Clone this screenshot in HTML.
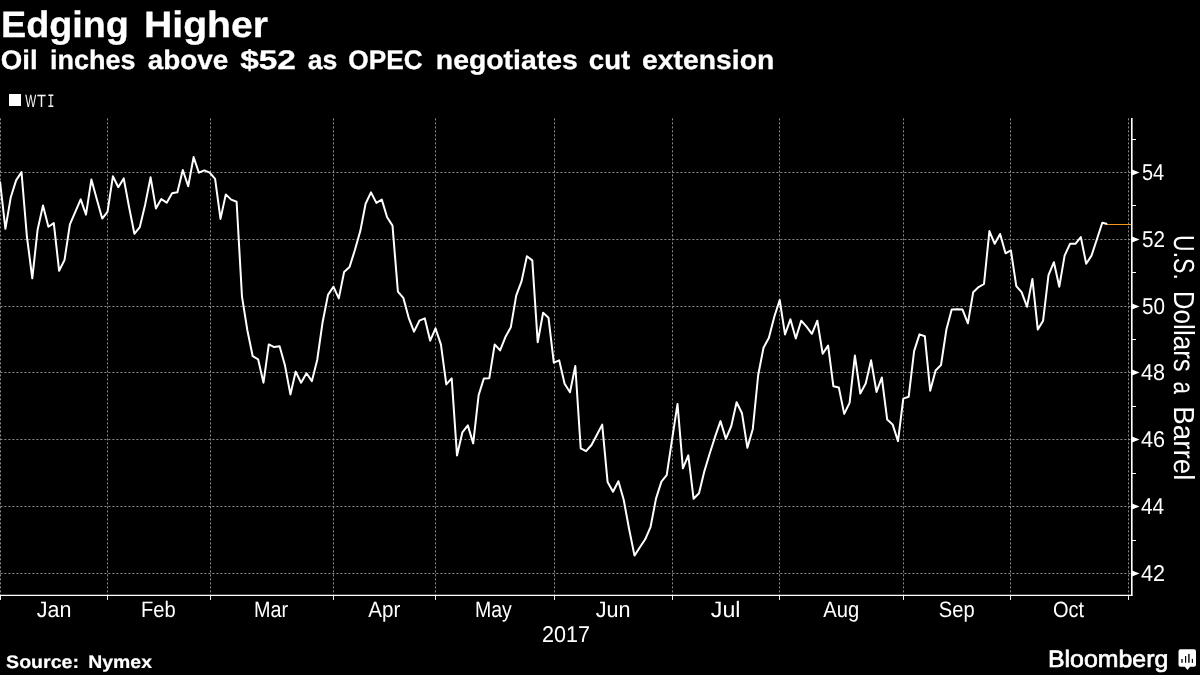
<!DOCTYPE html>
<html><head><meta charset="utf-8"><title>Edging Higher</title>
<style>
html,body{margin:0;padding:0;background:#000;}
body{width:1200px;height:675px;position:relative;overflow:hidden;}
svg{position:absolute;left:0;top:0;will-change:transform;}
text{font-family:"Liberation Sans",sans-serif;text-rendering:geometricPrecision;}
.g{stroke:#8c8c8c;stroke-width:1;stroke-dasharray:2 2;stroke-dashoffset:-0.4;}
</style></head><body>
<svg width="1200" height="675" viewBox="0 0 1200 675">
<line x1="0.5" y1="118" x2="0.5" y2="595" class="g"/>
<line x1="107.5" y1="118" x2="107.5" y2="595" class="g"/>
<line x1="210.5" y1="118" x2="210.5" y2="595" class="g"/>
<line x1="333.5" y1="118" x2="333.5" y2="595" class="g"/>
<line x1="435.5" y1="118" x2="435.5" y2="595" class="g"/>
<line x1="554.5" y1="118" x2="554.5" y2="595" class="g"/>
<line x1="672.5" y1="118" x2="672.5" y2="595" class="g"/>
<line x1="779.5" y1="118" x2="779.5" y2="595" class="g"/>
<line x1="903.5" y1="118" x2="903.5" y2="595" class="g"/>
<line x1="1010.5" y1="118" x2="1010.5" y2="595" class="g"/>
<line x1="1128.5" y1="118" x2="1128.5" y2="595" class="g"/>
<line x1="0" y1="573.5" x2="1131" y2="573.5" class="g"/>
<line x1="0" y1="506.5" x2="1131" y2="506.5" class="g"/>
<line x1="0" y1="439.5" x2="1131" y2="439.5" class="g"/>
<line x1="0" y1="372.5" x2="1131" y2="372.5" class="g"/>
<line x1="0" y1="306.5" x2="1131" y2="306.5" class="g"/>
<line x1="0" y1="239.5" x2="1131" y2="239.5" class="g"/>
<line x1="0" y1="172.5" x2="1131" y2="172.5" class="g"/>
<line x1="0" y1="595.4" x2="1132.4" y2="595.4" stroke="#fff" stroke-width="1.2"/>
<line x1="1131.8" y1="118" x2="1131.8" y2="596" stroke="#fff" stroke-width="1.6"/>
<line x1="0.5" y1="596" x2="0.5" y2="600" stroke="#eee" stroke-width="1"/>
<line x1="107.5" y1="596" x2="107.5" y2="600" stroke="#eee" stroke-width="1"/>
<line x1="210.5" y1="596" x2="210.5" y2="600" stroke="#eee" stroke-width="1"/>
<line x1="333.5" y1="596" x2="333.5" y2="600" stroke="#eee" stroke-width="1"/>
<line x1="435.5" y1="596" x2="435.5" y2="600" stroke="#eee" stroke-width="1"/>
<line x1="554.5" y1="596" x2="554.5" y2="600" stroke="#eee" stroke-width="1"/>
<line x1="672.5" y1="596" x2="672.5" y2="600" stroke="#eee" stroke-width="1"/>
<line x1="779.5" y1="596" x2="779.5" y2="600" stroke="#eee" stroke-width="1"/>
<line x1="903.5" y1="596" x2="903.5" y2="600" stroke="#eee" stroke-width="1"/>
<line x1="1010.5" y1="596" x2="1010.5" y2="600" stroke="#eee" stroke-width="1"/>
<line x1="1128.5" y1="596" x2="1128.5" y2="600" stroke="#eee" stroke-width="1"/>
<path d="M1132 570.5 L1139.6 573.5 L1132 576.5 Z" fill="#fff"/>
<path d="M1132 503.5 L1139.6 506.5 L1132 509.5 Z" fill="#fff"/>
<path d="M1132 436.5 L1139.6 439.5 L1132 442.5 Z" fill="#fff"/>
<path d="M1132 369.5 L1139.6 372.5 L1132 375.5 Z" fill="#fff"/>
<path d="M1132 303.5 L1139.6 306.5 L1132 309.5 Z" fill="#fff"/>
<path d="M1132 236.5 L1139.6 239.5 L1132 242.5 Z" fill="#fff"/>
<path d="M1132 169.5 L1139.6 172.5 L1132 175.5 Z" fill="#fff"/>
<line x1="1132" y1="540.5" x2="1136" y2="540.5" stroke="#fff" stroke-width="1"/>
<line x1="1132" y1="473.5" x2="1136" y2="473.5" stroke="#fff" stroke-width="1"/>
<line x1="1132" y1="406.5" x2="1136" y2="406.5" stroke="#fff" stroke-width="1"/>
<line x1="1132" y1="339.5" x2="1136" y2="339.5" stroke="#fff" stroke-width="1"/>
<line x1="1132" y1="272.5" x2="1136" y2="272.5" stroke="#fff" stroke-width="1"/>
<line x1="1132" y1="205.5" x2="1136" y2="205.5" stroke="#fff" stroke-width="1"/>
<line x1="1132" y1="139.5" x2="1136" y2="139.5" stroke="#fff" stroke-width="1"/>
<line x1="1107" y1="224.5" x2="1131" y2="224.5" stroke="#f7941d" stroke-width="1"/>
<polyline points="0.0,181.4 5.4,228.8 10.8,197.2 16.1,180.4 21.5,172.1 26.9,236.5 32.3,278.3 37.6,229.7 43.0,205.4 48.4,226.8 53.8,223.1 59.1,270.7 64.5,260.1 69.9,224.4 75.3,211.8 80.7,199.4 86.0,214.6 91.4,179.4 96.8,199.2 102.2,218.6 107.5,211.8 112.9,176.3 118.3,187.2 123.7,178.4 129.0,206.7 134.4,233.8 139.8,227.1 145.2,204.4 150.6,177.3 155.9,208.4 161.3,199.1 166.7,202.7 172.1,193.3 177.4,192.2 182.8,170.0 188.2,186.2 193.6,157.1 198.9,172.7 204.3,170.4 209.7,172.7 215.1,178.9 220.5,218.9 225.8,194.4 231.2,199.6 236.6,201.8 242.0,296.7 247.3,330.0 252.7,356.2 258.1,359.3 263.5,382.7 268.8,344.4 274.2,347.1 279.6,346.2 285.0,365.6 290.4,394.4 295.7,371.6 301.1,382.7 306.5,373.3 311.9,381.1 317.2,360.0 322.6,322.2 328.0,294.9 333.4,286.7 338.8,298.4 344.1,272.0 349.5,267.1 354.9,250.0 360.3,231.1 365.6,203.8 371.0,192.4 376.4,202.9 381.8,199.6 387.1,217.3 392.5,225.6 397.9,291.6 403.3,297.8 408.7,317.8 414.0,331.6 419.4,320.7 424.8,318.4 430.2,340.7 435.5,328.4 440.9,344.4 446.3,384.4 451.7,378.4 457.0,455.4 462.4,432.3 467.8,425.4 473.2,443.4 478.6,395.3 483.9,378.4 489.3,378.2 494.7,344.4 500.1,350.4 505.4,337.1 510.8,327.3 516.2,295.6 521.6,281.1 526.9,256.2 532.3,260.4 537.7,342.2 543.1,312.7 548.5,317.8 553.8,362.7 559.2,360.4 564.6,383.8 570.0,392.2 575.3,366.0 580.7,448.3 586.1,451.2 591.5,445.0 596.8,435.0 602.2,424.6 607.6,482.1 613.0,491.7 618.4,481.2 623.7,499.8 629.1,529.0 634.5,555.6 639.9,547.2 645.2,539.3 650.6,526.8 656.0,498.6 661.4,481.6 666.7,475.1 672.1,439.4 677.5,403.9 682.9,468.3 688.3,455.4 693.6,498.8 699.0,493.3 704.4,471.1 709.8,453.3 715.1,436.7 720.5,421.1 725.9,438.9 731.3,426.0 736.6,402.2 742.0,413.3 747.4,447.8 752.8,428.9 758.2,375.0 763.5,347.8 768.9,337.8 774.3,316.7 779.7,300.0 785.0,334.4 790.4,319.3 795.8,338.4 801.2,320.7 806.5,326.7 811.9,333.8 817.3,320.7 822.7,353.8 828.1,345.6 833.4,386.3 838.8,387.4 844.2,413.9 849.6,402.9 854.9,355.6 860.3,393.5 865.7,383.6 871.1,360.3 876.5,391.9 881.8,377.5 887.2,419.6 892.6,424.4 898.0,441.1 903.3,398.6 908.7,396.7 914.1,351.1 919.5,334.4 924.8,336.2 930.2,390.7 935.6,370.5 941.0,365.0 946.4,329.5 951.7,309.6 957.1,309.3 962.5,309.6 967.9,323.3 973.2,292.2 978.6,287.1 984.0,284.0 989.4,231.1 994.7,243.8 1000.1,234.0 1005.5,253.3 1010.9,250.4 1016.3,286.2 1021.6,292.2 1027.0,306.7 1032.4,278.9 1037.8,329.6 1043.1,320.7 1048.5,275.1 1053.9,262.2 1059.3,286.7 1064.6,255.6 1070.0,243.8 1075.4,243.8 1080.8,237.1 1086.2,263.8 1091.5,255.6 1096.9,239.3 1102.3,222.7 1107.2,224.0" fill="none" stroke="#fff" stroke-width="2" stroke-linejoin="round" stroke-linecap="butt"/>
<rect x="9" y="94" width="12" height="12" fill="#fff"/>
<path d="M1180.5 649.3 H1194 Q1196 649.3 1196 651.3 V664.7 Q1196 666.7 1194 666.7 H1190.1 L1187.5 670.1 L1184.8 666.7 H1180.5 Q1178.5 666.7 1178.5 664.7 V651.3 Q1178.5 649.3 1180.5 649.3 Z" fill="#fff"/>
<rect x="1181" y="659" width="2" height="3.8" fill="#555"/><rect x="1185" y="656" width="1.2" height="6.8" fill="#000"/><rect x="1188.1" y="653.9" width="1.6" height="8.9" fill="#222"/><rect x="1191.8" y="658.9" width="1.2" height="3.9" fill="#000"/>
<text transform="translate(0.99,36.60) scale(1.0319,1)" font-size="36.6" font-weight="bold" fill="#fff" stroke="#fff" stroke-width="0.3">Edging</text>
<text transform="translate(144.01,36.60) scale(1.0703,1)" font-size="36.6" font-weight="bold" fill="#fff" stroke="#fff" stroke-width="0.3">Higher</text>
<text transform="translate(0.82,68.50) scale(1.0304,1)" font-size="26.8" font-weight="bold" fill="#fff" stroke="#fff" stroke-width="0.3">Oil</text>
<text transform="translate(49.94,68.50) scale(1.0074,1)" font-size="26.8" font-weight="bold" fill="#fff" stroke="#fff" stroke-width="0.3">inches</text>
<text transform="translate(147.65,68.50) scale(1.0412,1)" font-size="26.8" font-weight="bold" fill="#fff" stroke="#fff" stroke-width="0.3">above</text>
<text transform="translate(240.15,68.50) scale(1.2487,1)" font-size="26.8" font-weight="bold" fill="#fff" stroke="#fff" stroke-width="0.3">$52</text>
<text transform="translate(307.65,68.50) scale(0.9930,1)" font-size="26.8" font-weight="bold" fill="#fff" stroke="#fff" stroke-width="0.3">as</text>
<text transform="translate(348.37,68.50) scale(0.9787,1)" font-size="26.8" font-weight="bold" fill="#fff" stroke="#fff" stroke-width="0.3">OPEC</text>
<text transform="translate(435.79,68.50) scale(1.0597,1)" font-size="26.8" font-weight="bold" fill="#fff" stroke="#fff" stroke-width="0.3">negotiates</text>
<text transform="translate(588.82,68.50) scale(1.0313,1)" font-size="26.8" font-weight="bold" fill="#fff" stroke="#fff" stroke-width="0.3">cut</text>
<text transform="translate(642.09,68.50) scale(1.0569,1)" font-size="26.8" font-weight="bold" fill="#fff" stroke="#fff" stroke-width="0.3">extension</text>
<text transform="translate(25.20,106.80) scale(0.6529,1)" font-size="17.8" fill="#f4f4f4">W</text>
<text transform="translate(36.90,106.80) scale(0.8273,1)" font-size="17.8" fill="#f4f4f4">T</text>
<text transform="translate(47.37,106.80) scale(0.6333,1)" font-size="19.0" style="font-family:'Liberation Mono',monospace" fill="#f4f4f4">I</text>
<text transform="translate(36.70,616.80) scale(0.9639,1)" font-size="22.3" fill="#fff">Jan</text>
<text transform="translate(141.10,616.80) scale(0.8995,1)" font-size="22.3" fill="#fff">Feb</text>
<text transform="translate(254.11,616.80) scale(0.8875,1)" font-size="22.3" fill="#fff">Mar</text>
<text transform="translate(368.30,616.80) scale(0.9214,1)" font-size="22.3" fill="#fff">Apr</text>
<text transform="translate(474.93,616.80) scale(0.8744,1)" font-size="22.3" fill="#fff">May</text>
<text transform="translate(595.80,616.80) scale(0.9667,1)" font-size="22.3" fill="#fff">Jun</text>
<text transform="translate(710.80,616.80) scale(1.0418,1)" font-size="22.3" fill="#fff">Jul</text>
<text transform="translate(823.30,616.80) scale(0.9067,1)" font-size="22.3" fill="#fff">Aug</text>
<text transform="translate(938.80,616.80) scale(0.9014,1)" font-size="22.3" fill="#fff">Sep</text>
<text transform="translate(1052.90,616.80) scale(0.8959,1)" font-size="22.3" fill="#fff">Oct</text>
<text transform="translate(541.95,641.90) scale(0.9463,1)" font-size="22.8" fill="#fff">2017</text>
<text transform="translate(6.10,667.70) scale(1.0875,1)" font-size="18" font-weight="bold" fill="#fff" stroke="#fff" stroke-width="0.2">Source:</text>
<text transform="translate(88.32,667.70) scale(1.0771,1)" font-size="18" font-weight="bold" fill="#fff" stroke="#fff" stroke-width="0.2">Nymex</text>
<text transform="translate(1047.95,666.70) scale(1.0457,1)" font-size="23.8" fill="#fff" stroke="#fff" stroke-width="0.65">Bloomberg</text>
<text transform="translate(1140.90,581.30) scale(0.9482,1)" font-size="22.8" fill="#fff">42</text>
<text transform="translate(1140.90,514.30) scale(0.9113,1)" font-size="22.8" fill="#fff">44</text>
<text transform="translate(1140.90,447.30) scale(0.9482,1)" font-size="22.8" fill="#fff">46</text>
<text transform="translate(1140.90,380.30) scale(0.9482,1)" font-size="22.8" fill="#fff">48</text>
<text transform="translate(1141.90,314.30) scale(0.9077,1)" font-size="22.8" fill="#fff">50</text>
<text transform="translate(1141.90,247.30) scale(0.9077,1)" font-size="22.8" fill="#fff">52</text>
<text transform="translate(1141.90,180.30) scale(0.8723,1)" font-size="22.8" fill="#fff">54</text>
<text transform="translate(1174.20,235.11) rotate(90) scale(0.7929,1)" font-size="29" fill="#fff">U.S.</text>
<text transform="translate(1174.20,290.80) rotate(90) scale(0.8981,1)" font-size="29" fill="#fff">Dollars</text>
<text transform="translate(1174.20,381.43) rotate(90) scale(0.7750,1)" font-size="29" fill="#fff">a</text>
<text transform="translate(1174.20,406.18) rotate(90) scale(0.9592,1)" font-size="29" fill="#fff">Barrel</text>
</svg>
</body></html>
